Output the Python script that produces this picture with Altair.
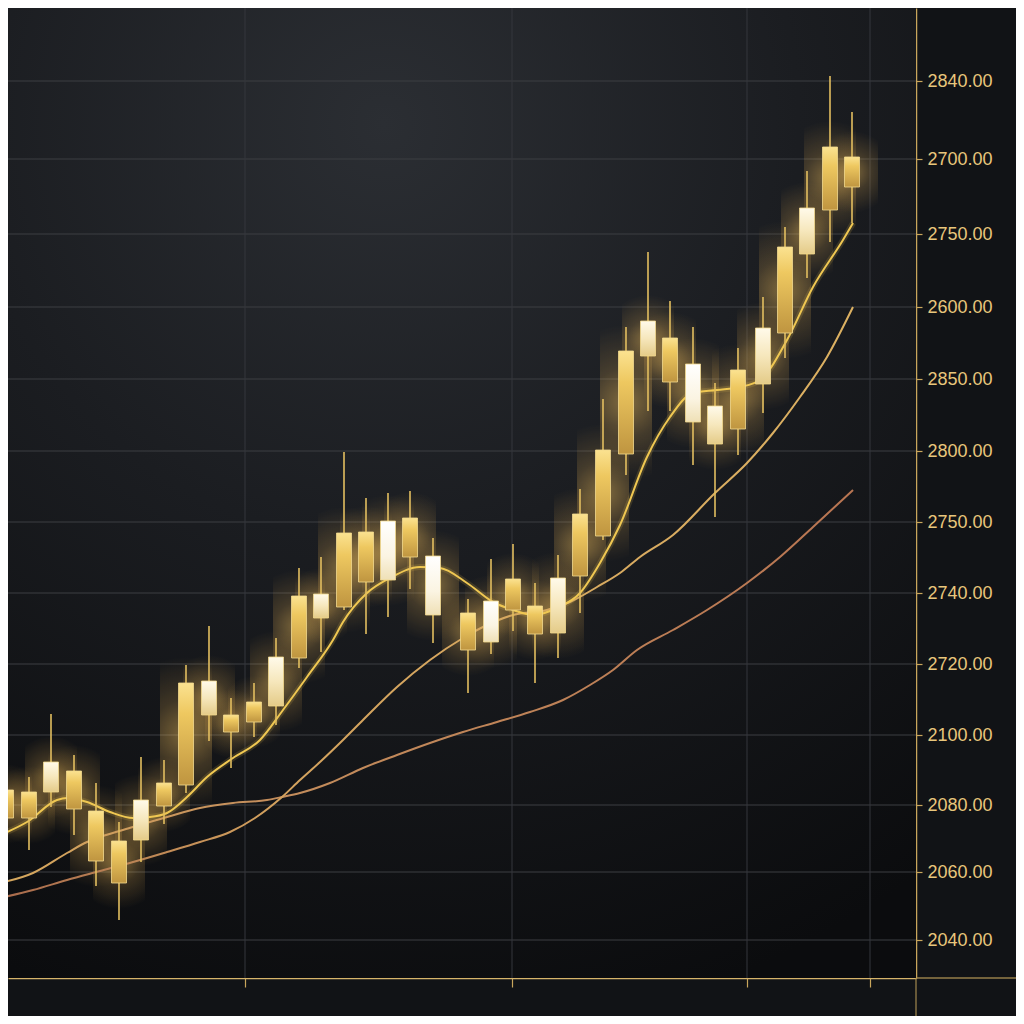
import altair as alt
import pandas as pd

# ---- candle data (chart units: rows above the bottom axis) ----
t      = [6, 29, 51, 74, 96, 119, 141, 164, 186, 209, 231, 254, 276, 299, 321, 344, 366, 388, 410, 433,
          468, 491, 513, 535, 558, 580, 603, 626, 648, 670, 693, 715, 738, 763, 785, 807, 830, 852]
body_top = [188, 186, 216, 207, 167, 137, 178, 195, 295, 297, 263, 276, 321, 382, 384, 445, 446, 457, 460, 422,
            365, 377, 399, 372, 400, 464, 528, 627, 657, 640, 614, 572, 608, 650, 731, 770, 831, 821]
body_bot = [160, 160, 186, 169, 117, 95, 138, 172, 193, 263, 246, 256, 272, 320, 360, 371, 396, 398, 421, 363,
            328, 336, 368, 344, 345, 402, 442, 524, 622, 596, 556, 534, 549, 594, 645, 724, 768, 791]
high = [213, 201, 264, 223, 195, 156, 221, 218, 313, 352, 280, 295, 340, 410, 421, 526, 480, 485, 487, 440,
        379, 419, 434, 395, 423, 489, 579, 651, 726, 677, 651, 595, 630, 681, 751, 807, 902, 866]
low  = [148, 128, 171, 143, 92, 58, 116, 154, 185, 237, 210, 241, 253, 310, 326, 368, 344, 361, 389, 335,
        285, 324, 347, 295, 320, 365, 438, 503, 567, 567, 513, 461, 523, 565, 620, 700, 736, 755]
tone = ["gold", "gold", "cream", "gold", "gold", "gold", "cream", "gold", "gold", "cream", "gold", "gold",
        "cream", "gold", "cream", "gold", "gold", "white", "gold", "white", "gold", "white", "gold", "gold",
        "cream", "gold", "gold", "gold", "cream", "gold", "white", "cream", "gold", "cream", "gold", "cream",
        "gold", "gold"]

# ---- moving averages ----
ma_fast_t = [0, 27, 57, 67, 87, 110, 133, 150, 167, 187, 207, 233, 260, 283, 307, 333, 343, 367, 390, 420,
             440, 467, 493, 513, 533, 557, 580, 600, 620, 647, 670, 693, 717, 740, 760, 787, 813, 843, 853]
ma_fast_v = [143, 156, 178, 180, 176, 166, 160, 161, 165, 181, 201, 220, 238, 268, 301, 338, 356, 385, 400, 411,
             410, 395, 376, 368, 363, 370, 385, 415, 453, 521, 561, 585, 588, 591, 598, 638, 691, 738, 755]
ma_slow_t = [0, 33, 67, 87, 100, 133, 167, 200, 233, 267, 282, 300, 330, 363, 397, 430, 463, 497, 530, 563,
             590, 613, 637, 673, 707, 747, 780, 813, 853]
ma_slow_v = [95, 105, 125, 136, 141, 151, 161, 170, 175, 178, 181, 185, 195, 210, 223, 235, 246, 256, 266, 278,
             293, 308, 328, 348, 368, 395, 421, 451, 488]
ma_mid_t = [0, 33, 67, 100, 133, 167, 200, 230, 255, 282, 300, 320, 343, 363, 397, 430, 463, 483, 513, 547,
            570, 597, 620, 640, 673, 715, 747, 773, 800, 827, 853]
ma_mid_v = [80, 88, 98, 107, 116, 126, 136, 146, 160, 181, 198, 216, 238, 258, 291, 318, 340, 351, 363, 368,
            376, 391, 405, 421, 443, 485, 515, 545, 581, 621, 671]

# ---- axis ----
y_tick_vals = [897, 819, 744, 671, 599, 527, 456, 385, 314, 243, 173, 106, 38]
y_tick_labels = ["2840.00", "2700.00", "2750.00", "2600.00", "2850.00", "2800.00", "2750.00",
                 "2740.00", "2720.00", "2100.00", "2080.00", "2060.00", "2040.00"]
x_tick_vals = [245, 512, 747, 870]

candles = pd.DataFrame({"t": t, "top": body_top, "bot": body_bot, "high": high, "low": low, "tone": tone})
fast = pd.DataFrame({"t": ma_fast_t, "v": ma_fast_v})
slow = pd.DataFrame({"t": ma_slow_t, "v": ma_slow_v})
mid = pd.DataFrame({"t": ma_mid_t, "v": ma_mid_v})

GOLD = "#c9a65c"
label_expr = "''"
for v, l in reversed(list(zip(y_tick_vals, y_tick_labels))):
    label_expr = f"datum.value == {v} ? '{l}' : ({label_expr})"

xs = alt.Scale(domain=[8, 916], nice=False, zero=False)
ys = alt.Scale(domain=[0, 970], nice=False, zero=False)
x_axis = alt.Axis(values=x_tick_vals, labels=False, grid=False,
                  ticks=True, tickSize=9, tickColor=GOLD, tickWidth=1.2,
                  domain=True, domainColor="#d6b46a", domainWidth=1.6, title=None, orient="bottom")
y_axis = alt.Axis(values=y_tick_vals, labelExpr=label_expr, orient="right", grid=False,
                  ticks=True, tickSize=6, tickColor=GOLD,
                  tickWidth=1.2, domain=True, domainColor=GOLD, domainWidth=1.5,
                  labelColor="#e8c67c", labelFontSize=18, labelFont="Liberation Sans",
                  labelPadding=5, labelBaseline="middle", title=None)

X = lambda f: alt.X(f, type="quantitative", scale=xs, axis=x_axis)
Y = lambda f: alt.Y(f, type="quantitative", scale=ys, axis=y_axis)

def grad(stops, vertical=True):
    return {"gradient": "linear", "x1": 0, "y1": 0, "x2": 0 if vertical else 1, "y2": 1 if vertical else 0,
            "stops": [{"offset": o, "color": c} for o, c in stops]}

# background wash of the plot area
bg = alt.Chart(pd.DataFrame({"k": [0]})).mark_rect(
    fill={"gradient": "radial", "x1": 0.42, "y1": 0.12, "x2": 0.42, "y2": 0.12, "r1": 0, "r2": 0.95,
          "stops": [{"offset": 0, "color": "#2b2e33"}, {"offset": 0.45, "color": "#1b1d21"},
                    {"offset": 1, "color": "#0b0c0e"}]}
).encode(x=alt.value(0), x2=alt.value(908), y=alt.value(0), y2=alt.value(970))

# grid lines (drawn as rules so they sit above the background wash)
hgrid = alt.Chart(pd.DataFrame({"g": y_tick_vals})).mark_rule(color="#3c3e43", strokeWidth=1) \
    .encode(y=Y("g"), x=alt.value(0), x2=alt.value(908))
vgrid = alt.Chart(pd.DataFrame({"g": x_tick_vals})).mark_rule(color="#35373c", strokeWidth=1) \
    .encode(x=X("g"), y=alt.value(0), y2=alt.value(970))

base = alt.Chart(candles).transform_calculate(
    x1="datum.t - 7.5", x2="datum.t + 7.5",
    gx1="datum.t - 26", gx2="datum.t + 26",
    gy1="datum.bot - 26", gy2="datum.top + 26",
)

glow = base.mark_rect(
    fill={"gradient": "radial", "x1": 0.5, "y1": 0.5, "x2": 0.5, "y2": 0.5, "r1": 0, "r2": 0.5,
          "stops": [{"offset": 0, "color": "rgba(255,205,100,0.45)"},
                    {"offset": 0.45, "color": "rgba(255,195,90,0.18)"},
                    {"offset": 1, "color": "rgba(255,190,80,0)"}]}
).encode(x=X("gx1"), x2="gx2", y=Y("gy1"), y2="gy2")

wick = base.mark_rule(color="#e3be60", strokeWidth=1.6).encode(x=X("t"), y=Y("low"), y2="high")

fills = {
    "gold": grad([(0, "#fbe290"), (0.3, "#eec860"), (1, "#bf9540")]),
    "cream": grad([(0, "#fffaea"), (0.5, "#f6e7bc"), (1, "#e4cb88")]),
    "white": grad([(0, "#ffffff"), (0.6, "#fbf4e2"), (1, "#efe0b6")]),
}
bodies = [
    base.transform_filter(f"datum.tone == '{k}'").mark_rect(fill=f, stroke="#f3d98e", strokeWidth=0.8)
    .encode(x=X("x1"), x2="x2", y=Y("bot"), y2="top")
    for k, f in fills.items()
]

fast_glow = alt.Chart(fast).mark_line(interpolate="monotone", color="#f0c850", strokeWidth=6, opacity=0.15) \
    .encode(x=X("t"), y=Y("v"))
fast_line = alt.Chart(fast).mark_line(interpolate="monotone", color="#efc752", strokeWidth=2) \
    .encode(x=X("t"), y=Y("v"))
slow_line = alt.Chart(slow).mark_line(
    interpolate="monotone", strokeWidth=2,
    stroke=grad([(0, "#d7a95e"), (0.3, "#c48e5c"), (1, "#b87552")], vertical=False)
).encode(x=X("t"), y=Y("v"))
mid_line = alt.Chart(mid).mark_line(
    interpolate="monotone", strokeWidth=2,
    stroke=grad([(0, "#a86a4c"), (0.33, "#d3a25e"), (1, "#dcb162")], vertical=False)
).encode(x=X("t"), y=Y("v"))

# axis lines that run on past the plot frame
ext = pd.DataFrame({"xa": [916, 916], "xb": [916, 1016], "ya": [0, 0], "yb": [-40, 0]})
ext_rules = alt.Chart(ext).mark_rule(color="#b89a58", strokeWidth=1.3, clip=False, opacity=0.8) \
    .encode(x=X("xa"), x2="xb", y=Y("ya"), y2="yb")

chart = alt.layer(bg, hgrid, vgrid, glow, fast_glow, slow_line, mid_line, fast_line, wick, *bodies,
                  ext_rules).properties(
    width=908, height=970,
    autosize=alt.AutoSizeParams(type="none"),
    padding={"left": 0, "top": 0, "right": 100, "bottom": 38},
    background="#111316",
).configure_view(stroke=None, fill="#15171a")

chart.save("out.html", embed_options={"renderer": "svg", "actions": False})
